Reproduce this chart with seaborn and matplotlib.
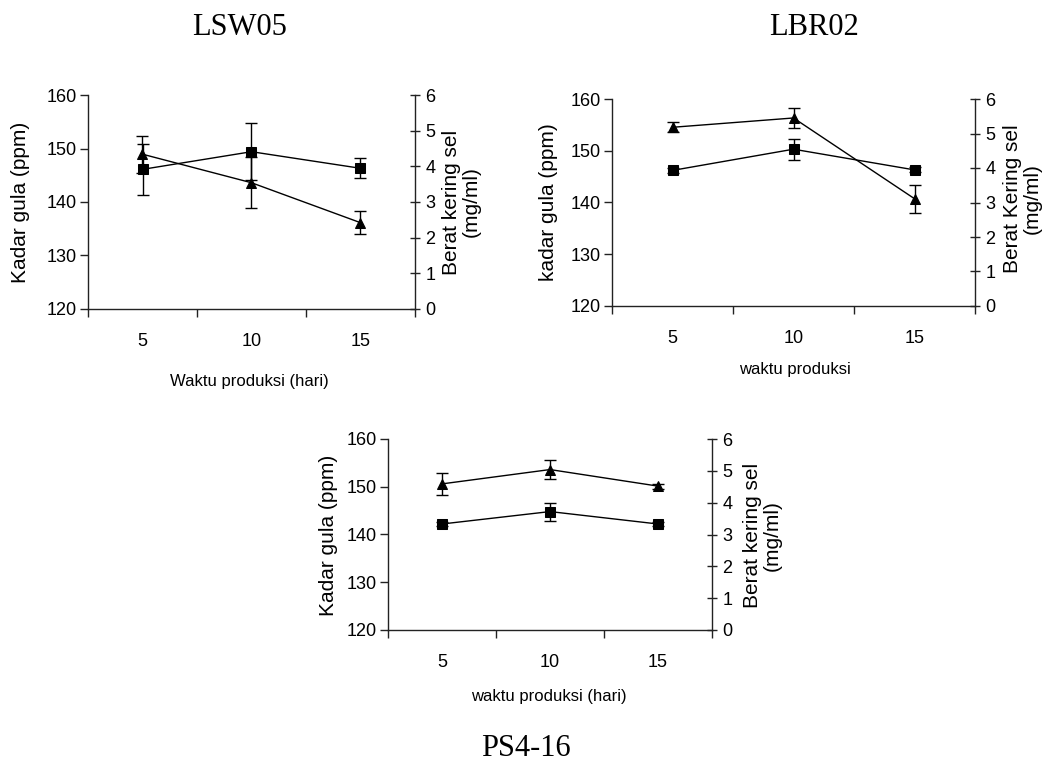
import numpy as np
import pandas as pd
import seaborn as sns
import matplotlib.pyplot as plt

# Data
days = ["5", "10", "15"]

# LSW05: kadar gula (ppm) = squares, berat kering sel (mg/ml) = triangles
lsw_gula = [146.1, 149.4, 146.3]
lsw_gula_err = [4.8, 5.3, 1.9]
lsw_sel = [4.34, 3.54, 2.42]
lsw_sel_err = [0.52, 0.72, 0.32]

# LBR02
lbr_gula = [146.2, 150.3, 146.3]
lbr_gula_err = [0.5, 2.0, 0.5]
lbr_sel = [5.18, 5.45, 3.11]
lbr_sel_err = [0.14, 0.30, 0.40]

# PS4-16
ps_gula = [142.2, 144.8, 142.2]
ps_gula_err = [0.5, 1.9, 0.5]
ps_sel = [4.59, 5.04, 4.52]
ps_sel_err = [0.35, 0.29, 0.08]

sns.set_style("ticks")
plt.rcParams['font.family'] = ['Liberation Sans', 'DejaVu Sans']
plt.rcParams['axes.edgecolor'] = '#222222'
plt.rcParams['axes.linewidth'] = 1.0
plt.rcParams['text.color'] = 'black'
plt.rcParams['axes.labelcolor'] = 'black'
plt.rcParams['xtick.color'] = 'black'
plt.rcParams['ytick.color'] = 'black'

W, H = 1044, 762
fig = plt.figure(figsize=(W / 100, H / 100), dpi=100)


def px_rect(left, top, right, bottom):
    return [left / W, 1 - bottom / H, (right - left) / W, (bottom - top) / H]


def draw_panel(rect, gula, gula_err, sel, sel_err, xlabel, ylabel, y2label,
               xl_pos, yl_pos, y2l_pos):
    ax = fig.add_axes(rect)
    ax2 = ax.twinx()
    x = np.arange(len(days))

    df_g = pd.DataFrame({"pos": x, "nilai": gula})
    df_s = pd.DataFrame({"pos": x, "nilai": sel})

    ax.errorbar(x, gula, yerr=gula_err, fmt="none", ecolor="black",
                elinewidth=1, capsize=4, capthick=1, zorder=2)
    sns.lineplot(data=df_g, x="pos", y="nilai", ax=ax, color="black",
                 marker="s", markersize=6.5, markeredgecolor="black",
                 linewidth=1, zorder=3)

    ax2.errorbar(x, sel, yerr=sel_err, fmt="none", ecolor="black",
                 elinewidth=1, capsize=4, capthick=1, zorder=2)
    sns.lineplot(data=df_s, x="pos", y="nilai", ax=ax2, color="black",
                 marker="^", markersize=7, markeredgecolor="black",
                 linewidth=1, zorder=3)

    ax.set_xlim(-0.5, len(days) - 0.5)
    ax.set_ylim(120, 160)
    ax.set_yticks([120, 130, 140, 150, 160])
    ax2.set_ylim(0, 6)
    ax2.set_yticks(range(7))

    ax.set_xticks(x)
    ax.set_xticklabels(days)
    ax.set_xticks(np.arange(len(days) + 1) - 0.5, minor=True)

    ax.tick_params(axis='y', direction='out', length=6, width=1, pad=2,
                   labelsize=13, colors='#222222', labelcolor='black')
    ax.tick_params(axis='x', which='major', length=0, pad=17, labelsize=13,
                   labelcolor='black')
    ax.tick_params(axis='x', which='minor', direction='out', length=6,
                   width=1, colors='#222222')
    ax2.tick_params(axis='y', direction='inout', length=7, width=1, pad=4,
                    labelsize=13, colors='#222222', labelcolor='black')

    for a in (ax, ax2):
        a.spines['top'].set_visible(False)
    ax.spines['right'].set_visible(False)
    ax2.spines['left'].set_visible(False)
    ax2.spines['bottom'].set_visible(False)

    ax.set_xlabel(xlabel, fontsize=12)
    ax.xaxis.set_label_coords(*xl_pos)
    ax.xaxis.label.set_va('center')
    ax.set_ylabel(ylabel, fontsize=15)
    ax.yaxis.set_label_coords(*yl_pos)
    ax.yaxis.label.set_va('center')
    ax2.set_ylabel(y2label, fontsize=15, linespacing=1.05)
    ax2.yaxis.set_label_coords(*y2l_pos)
    ax2.yaxis.label.set_va('center')
    return ax, ax2


draw_panel(px_rect(88, 95, 415, 309), lsw_gula, lsw_gula_err, lsw_sel, lsw_sel_err,
           "Waktu produksi (hari)", "Kadar gula (ppm)", "Berat kering sel\n(mg/ml)",
           (0.495, -0.34), (-0.206, 0.5), (1.142, 0.5))

draw_panel(px_rect(612, 99, 975, 306), lbr_gula, lbr_gula_err, lbr_sel, lbr_sel_err,
           "waktu produksi", "kadar gula (ppm)", "Berat Kering sel\n(mg/ml)",
           (0.504, -0.309), (-0.174, 0.504), (1.13, 0.52))

draw_panel(px_rect(388, 439, 712, 630), ps_gula, ps_gula_err, ps_sel, ps_sel_err,
           "waktu produksi (hari)", "Kadar gula (ppm)", "Berat kering sel\n(mg/ml)",
           (0.497, -0.349), (-0.184, 0.493), (1.155, 0.497))

title_font = dict(family=['Liberation Serif', 'DejaVu Serif'], fontsize=22,
                  ha='center', va='baseline', color='black')
fig.text(240 / W, 1 - 35 / H, "LSW05", **title_font)
fig.text(814 / W, 1 - 35 / H, "LBR02", **title_font)
fig.text(526 / W, 1 - 756 / H, "PS4-16", **title_font)

fig.savefig("out.png", dpi=100, facecolor="white")
